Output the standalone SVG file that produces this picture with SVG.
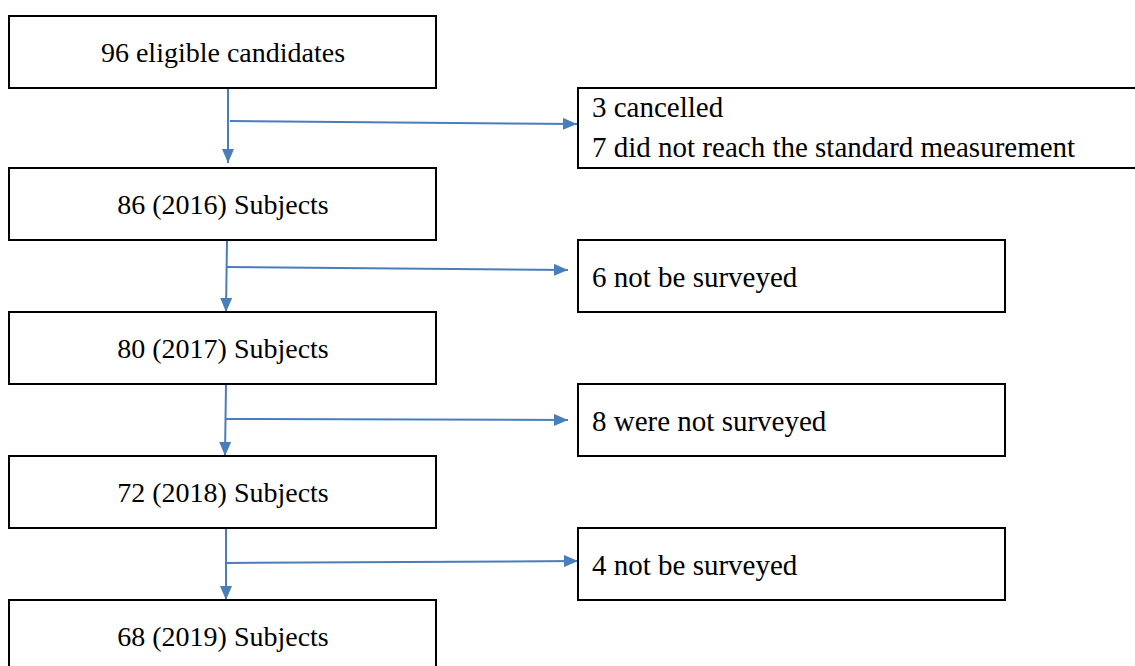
<svg xmlns="http://www.w3.org/2000/svg" width="1135" height="666" viewBox="0 0 1135 666">
<style>
.box{fill:#fff;stroke:#000;stroke-width:2}
.ln{stroke:#4a7ebb;stroke-width:2;fill:none}
</style>
<defs>
<marker id="ah" viewBox="0 0 14 12" refX="14" refY="6" markerWidth="14" markerHeight="12" markerUnits="userSpaceOnUse" orient="auto">
<path d="M0,0 L14,6 L0,12 Z" fill="#4a7ebb"/>
</marker>
</defs>
<rect width="1135" height="666" fill="#fff"/>
<g id="connectors">
<line class="ln" x1="228" y1="88" x2="228" y2="163" marker-end="url(#ah)"/>
<line class="ln" x1="230" y1="121" x2="577" y2="124" marker-end="url(#ah)"/>
<line class="ln" x1="227" y1="240" x2="226" y2="312" marker-end="url(#ah)"/>
<line class="ln" x1="227" y1="267" x2="568" y2="270" marker-end="url(#ah)"/>
<line class="ln" x1="226" y1="384" x2="225" y2="456" marker-end="url(#ah)"/>
<line class="ln" x1="226" y1="419" x2="568" y2="420" marker-end="url(#ah)"/>
<line class="ln" x1="226" y1="528" x2="226" y2="600" marker-end="url(#ah)"/>
<line class="ln" x1="226" y1="563" x2="578" y2="561" marker-end="url(#ah)"/>
</g>
<g id="n1"><rect class="box" x="9" y="16" width="427" height="72"/><text x="223" y="62" font-family="serif" font-size="28" text-anchor="middle">96 eligible candidates</text></g>
<g id="n2"><rect class="box" x="9" y="168" width="427" height="72"/><text x="223" y="214" font-family="serif" font-size="28" text-anchor="middle">86 (2016) Subjects</text></g>
<g id="n3"><rect class="box" x="9" y="312" width="427" height="72"/><text x="223" y="358" font-family="serif" font-size="28" text-anchor="middle">80 (2017) Subjects</text></g>
<g id="n4"><rect class="box" x="9" y="456" width="427" height="72"/><text x="223" y="502" font-family="serif" font-size="28" text-anchor="middle">72 (2018) Subjects</text></g>
<g id="n5"><rect class="box" x="9" y="600" width="427" height="80"/><text x="223" y="646" font-family="serif" font-size="28" text-anchor="middle">68 (2019) Subjects</text></g>
<g id="e1"><rect class="box" x="578" y="88" width="570" height="80"/><text x="592" y="117" font-family="serif" font-size="29">3 cancelled</text><text x="592" y="157" font-family="serif" font-size="29">7 did not reach the standard measurement</text></g>
<g id="e2"><rect class="box" x="578" y="240" width="427" height="72"/><text x="592" y="287" font-family="serif" font-size="29">6 not be surveyed</text></g>
<g id="e3"><rect class="box" x="578" y="384" width="427" height="72"/><text x="592" y="431" font-family="serif" font-size="29">8 were not surveyed</text></g>
<g id="e4"><rect class="box" x="578" y="528" width="427" height="72"/><text x="592" y="575" font-family="serif" font-size="29">4 not be surveyed</text></g>
</svg>
